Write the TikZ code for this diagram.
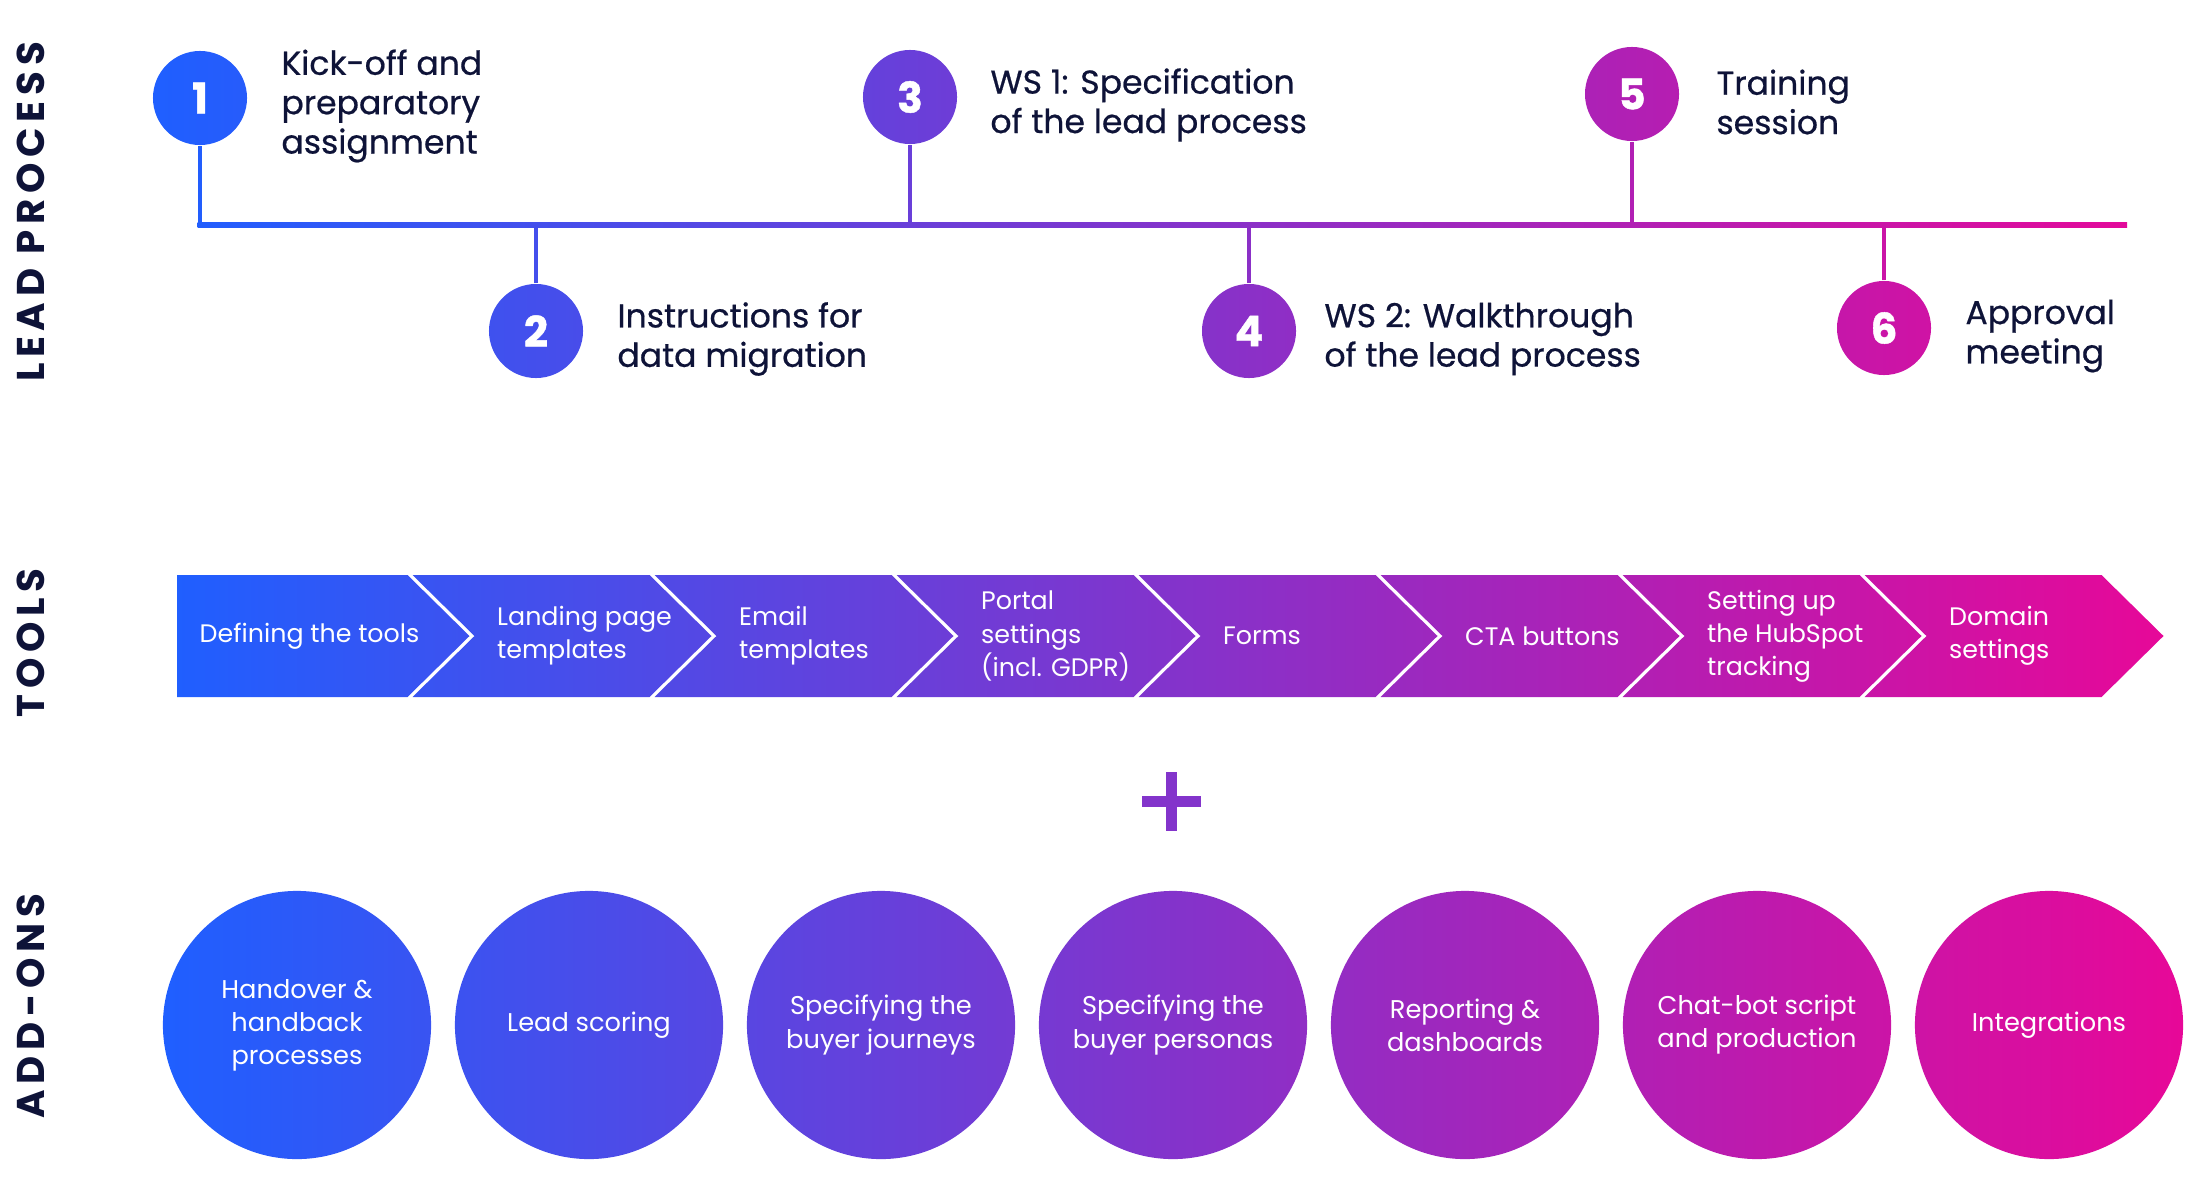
\documentclass[tikz,border=0pt]{standalone}
\usepackage{fontspec}
\setmainfont{Poppins}
\usetikzlibrary{positioning}
\usetikzlibrary{calc}

\definecolor{hubblue}{RGB}{31,95,255}
\definecolor{hubpink}{RGB}{231,8,152}
\definecolor{navy}{RGB}{14,19,56}

% colour of the blue-pink run at x (in px)
\newcommand{\gradat}[2]{\pgfmathsetmacro\gpct{min(100,max(0,(#2-170)/20))}\colorlet{#1}{hubpink!\gpct!hubblue}}

\tikzset{
  stepdot/.style={circle,minimum size=0.94cm,inner sep=0pt,text=white,font=\bfseries\fontsize{12}{13}\selectfont\addfontfeature{FakeBold=1}},
  steptext/.style={align=left,text=navy,inner sep=0pt,font=\fontsize{9.4}{11.2}\selectfont\addfontfeature{FakeBold=0.6}},
  conn/.style={line width=1.3pt},
  tooltext/.style={align=left,text=white,inner sep=0pt,font=\fontsize{7.2}{9.4}\selectfont},
  addon/.style={circle,minimum size=2.68cm,inner sep=0pt,align=center,text=white,font=\fontsize{7.3}{9.4}\selectfont},
  sidelabel/.style={rotate=90,text=navy,inner sep=0pt,font=\bfseries\fontsize{11}{12}\selectfont\addfontfeature{LetterSpace=15}}
}

\begin{document}
\begin{tikzpicture}[x=0.01cm,y=-0.01cm]
\useasboundingbox (0,0) rectangle (2200,1200);

% side labels
\node[sidelabel] (lead) at (31,212) {LEAD PROCESS};
\node[sidelabel] (tools) at (31,643) {TOOLS};
\node[sidelabel] (addons) at (31,1006) {ADD-ONS};

% lead process
\coordinate (spL) at (200,224.5);
\coordinate (spR) at (2127,224.5);
\gradat{cl}{200}\gradat{cr}{2127}
\shade[left color=cl,right color=cr] ($(spL)+(-2.5,-2.5)$) rectangle ($(spR)+(0,2.5)$);
\foreach \n/\x/\y/\gap/\txt in {1/200/98/0.33/{Kick-off and\\preparatory\\assignment},
  2/536/331/0.33/{Instructions for\\data migration},
  3/910/97/0.32/{WS 1: Specification\\of the lead process},
  4/1249/331/0.27/{WS 2: Walkthrough\\of the lead process},
  5/1632/94/0.36/{Training\\session},
  6/1884/328/0.33/{Approval\\meeting}}
{
  \gradat{cl}{\x-47}\gradat{cr}{\x+47}\gradat{cc}{\x}
  \node[stepdot,left color=cl,right color=cr] (s\n) at (\x,\y) {\n};
  \node[steptext,right=\gap cm of s\n,yshift=-0.08cm] (t\n) {\txt};
  \draw[conn,draw=cc] (s\n) -- (s\n |- spL);
}

% tools
\foreach \i/\txt in {1/{Defining the tools},2/{Landing page\\templates},3/{Email\\templates},
  4/{Portal\\settings\\(incl. GDPR)},5/{Forms},6/{CTA buttons},
  7/{Setting up\\the HubSpot\\tracking},8/{Domain\\settings}}
{
  \pgfmathsetmacro\nd{\i==1 ? 0 : 62}
  \pgfmathsetmacro\xa{\i==1 ? 177 : 410+(\i-2)*242+2.5}
  \pgfmathsetmacro\xb{410+(\i-1)*242-2.5}
  \gradat{cl}{\xa}\gradat{cr}{\xb+62}
  \shade[left color=cl,right color=cr] (\xa,575) -- (\xb,575) -- (\xb+62,636) -- (\xb,697)
    -- (\xa,697) -- (\xa+\nd,636) -- cycle;
  \node[tooltext,anchor=west] (tool\i) at (\xa+\nd+22,636) {\txt};
}

% plus
\gradat{cc}{1171}
\fill[cc] (1142,796) rectangle (1201,807);
\fill[cc] (1166,772) rectangle (1177,831);

% add-ons
\foreach \i/\txt in {1/{Handover \&\\handback\\processes},2/{Lead scoring},
  3/{Specifying the\\buyer journeys},4/{Specifying the\\buyer personas},
  5/{Reporting \&\\dashboards},6/{Chat-bot script\\and production},7/{Integrations}}
{
  \pgfmathsetmacro\cx{297+(\i-1)*292}
  \gradat{cl}{\cx-134}\gradat{cr}{\cx+134}
  \node[addon,left color=cl,right color=cr] (addon\i) at (\cx,1025) {\txt};
}
\end{tikzpicture}
\end{document}
